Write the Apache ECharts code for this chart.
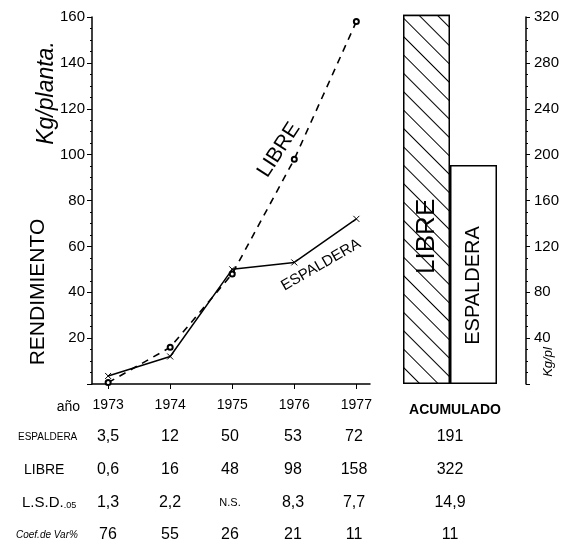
<!DOCTYPE html>
<html><head><meta charset="utf-8">
<script src="https://cdn.jsdelivr.net/npm/echarts@6/dist/echarts.min.js"></script>
<style>html,body{margin:0;padding:0;background:#fff}#c{width:567px;height:543px}</style>
</head><body><div id="c"></div>
<script>
const years=[1973,1974,1975,1976,1977];
const espaldera=[3.5,12,50,53,72];
const libre=[0.6,16,48,98,158];
const lsd=['1,3','2,2','N.S.','8,3','7,7'];
const cv=['76','55','26','21','11'];
const accCats=['LIBRE','ESPALDERA'];
const accumulated=[322,191];
const accLsd='14,9';
const accCv='11';
const rowNames=['ESPALDERA','LIBRE','L.S.D..05','Coef.de Var%'];

const FONT='Liberation Sans';
const fmt=v=>String(v).replace('.',',');
const chart=echarts.init(document.getElementById('c'),null,{renderer:'canvas'});

const colX=[108,170,230,293,354];
const accX=450;
const rowY=[437,470,503,535];
const rows=[espaldera.map(fmt),libre.map(fmt),lsd,cv];
const accVals=[String(accumulated[1]),String(accumulated[0]),accLsd,accCv];

const graphics=[];
function txt(x,y,s,opt){
  graphics.push(Object.assign({type:'text',x:x,y:y,style:Object.assign({text:s,fill:'#000',font:'16px "'+FONT+'"',textAlign:'center',textVerticalAlign:'middle'},opt&&opt.style||{})},opt&&opt.extra||{}));
}
rows.forEach((r,ri)=>{
  r.forEach((v,ci)=>txt(colX[ci],rowY[ri],v,{style:ri===2&&v==='N.S.'?{font:'11px "'+FONT+'"'}:{}}));
  txt(accX,rowY[ri],accVals[ri]);
});
txt(18,rowY[0],rowNames[0],{style:{textAlign:'left',font:'10px "'+FONT+'"'}});
txt(24,rowY[1],rowNames[1],{style:{textAlign:'left',font:'14px "'+FONT+'"'}});
graphics.push({type:'text',x:22,y:rowY[2],style:{text:'{a|L.S.D.}{b|.05}',textVerticalAlign:'middle',rich:{a:{fontSize:15,fontFamily:FONT,fill:'#000'},b:{fontSize:9,fontFamily:FONT,fill:'#000',padding:[6,0,0,0]}}}});
txt(16,rowY[3],rowNames[3],{style:{textAlign:'left',font:'italic 10px "'+FONT+'"'}});
txt(80,407,'año',{style:{textAlign:'right',font:'14px "'+FONT+'"'}});
txt(455,410,'ACUMULADO',{style:{font:'bold 14px "'+FONT+'"'}});
txt(548,362,'Kg/pl',{style:{font:'italic 13px "'+FONT+'"'},extra:{rotation:Math.PI/2}});
txt(38,292,'RENDIMIENTO',{style:{font:'21px "'+FONT+'"'},extra:{rotation:Math.PI/2}});
txt(47,93,'Kg/planta.',{style:{font:'italic 23px "'+FONT+'"'},extra:{rotation:Math.PI/2}});
txt(279,150,'LIBRE',{style:{font:'21px "'+FONT+'"'},extra:{rotation:57*Math.PI/180}});
txt(321,265,'ESPALDERA',{style:{font:'15px "'+FONT+'"'},extra:{rotation:30*Math.PI/180}});

const xMark='path://M0,0L10,10M10,0L0,10';

chart.setOption({
  animation:false,
  backgroundColor:'#fff',
  grid:[{left:92,top:17,width:278,height:367},{left:403,top:17,width:94,height:367}],
  xAxis:[
    {type:'value',gridIndex:0,min:1972.74,max:1977.22,
     axisLine:{lineStyle:{color:'#000',width:1.5}},
     axisTick:{customValues:years,length:5,lineStyle:{color:'#000'}},
     axisLabel:{customValues:years,color:'#000',fontSize:14,fontFamily:FONT,margin:14,formatter:v=>String(v)},
     splitLine:{show:false}},
    {type:'category',gridIndex:1,data:accCats,show:false}
  ],
  yAxis:[
    {type:'value',gridIndex:0,min:0,max:160,interval:20,
     axisLine:{show:true,lineStyle:{color:'#000',width:1.5}},
     axisTick:{show:true,length:5,lineStyle:{color:'#000'}},
     minorTick:{show:true,splitNumber:4,length:2,lineStyle:{color:'#000'}},
     axisLabel:{color:'#000',fontSize:15,fontFamily:FONT,margin:7,formatter:v=>v===0?'':String(v)},
     splitLine:{show:false}},
    {type:'value',gridIndex:1,position:'right',offset:29,min:0,max:320,interval:40,
     axisLine:{show:true,lineStyle:{color:'#000',width:1.5}},
     axisTick:{show:true,length:4,lineStyle:{color:'#000'}},
     minorTick:{show:true,splitNumber:4,length:2,lineStyle:{color:'#000'}},
     axisLabel:{color:'#000',fontSize:15,fontFamily:FONT,margin:8,formatter:v=>v===0?'':String(v)},
     splitLine:{show:false}}
  ],
  series:[
    {name:'ESPALDERA',type:'line',xAxisIndex:0,yAxisIndex:0,
     data:years.map((y,i)=>[y,espaldera[i]]),
     lineStyle:{color:'#000',width:1.5},symbol:xMark,symbolSize:6,
     itemStyle:{color:'#000',borderColor:'#000',borderWidth:1}},
    {name:'LIBRE',type:'line',xAxisIndex:0,yAxisIndex:0,
     data:years.map((y,i)=>[y,libre[i]]),
     lineStyle:{color:'#000',width:1.6,type:[7,6]},symbol:'emptyCircle',symbolSize:5,
     itemStyle:{color:'#000',borderColor:'#000',borderWidth:1}},
    {name:'ACUMULADO',type:'bar',xAxisIndex:1,yAxisIndex:1,barCategoryGap:'0%',clip:false,
     data:[
       {value:accumulated[0],itemStyle:{color:'#fff',decal:{symbol:'rect',symbolSize:1,dashArrayX:[1,0],dashArrayY:[1,12],rotation:Math.PI/4,color:'#000',backgroundColor:'#fff'}},label:{offset:[-37,0],fontSize:26}},
       {value:accumulated[1],label:{offset:[-11,0],fontSize:20}}
     ],
     itemStyle:{color:'#fff',borderColor:'#000',borderWidth:1.5},
     label:{show:true,position:'inside',rotate:90,formatter:'{b}',color:'#000',fontFamily:FONT,backgroundColor:'transparent'}}
  ],
  graphic:graphics
});
</script></body></html>
